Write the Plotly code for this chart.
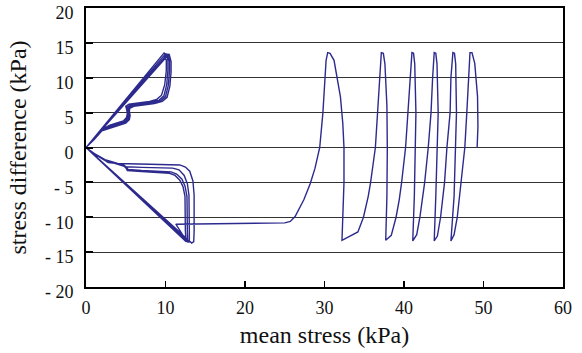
import plotly.graph_objects as go

# ---- compression loops (origin -> curve -> peak) ----
comp1_x = [0, 1.2, 2.2, 3.0, 4.0, 4.7, 5.1, 5.2, 5.1, 5.0, 5.4, 6.5, 8.0, 8.9, 9.5, 9.9, 10.1, 10.1, 9.85]
comp1_y = [0, 1.4, 2.7, 3.2, 3.5, 3.8, 4.3, 4.9, 5.5, 5.9, 6.2, 6.4, 6.6, 6.9, 7.5, 9.0, 11.0, 12.5, 13.6]
comp2_x = [0, 1.1, 2.1, 3.1, 4.1, 4.8, 5.25, 5.35, 5.25, 5.2, 5.6, 6.7, 8.2, 9.2, 9.8, 10.15, 10.3, 10.3, 10.05]
comp2_y = [0, 1.3, 2.6, 3.1, 3.4, 3.7, 4.2, 4.8, 5.4, 5.8, 6.1, 6.3, 6.5, 6.8, 7.4, 9.0, 11.0, 12.5, 13.5]
comp3_x = [0, 1.0, 2.0, 3.2, 4.2, 4.9, 5.35, 5.45, 5.35, 5.35, 5.8, 6.9, 8.4, 9.4, 10.0, 10.35, 10.5, 10.5, 10.25]
comp3_y = [0, 1.2, 2.5, 3.0, 3.3, 3.6, 4.1, 4.7, 5.3, 5.7, 6.0, 6.2, 6.4, 6.7, 7.3, 8.9, 10.9, 12.4, 13.4]
comp4_x = [0, 1.0, 2.0, 3.3, 4.3, 5.0, 5.45, 5.55, 5.45, 5.5, 6.0, 7.1, 8.6, 9.6, 10.2, 10.55, 10.7, 10.7, 10.45]
comp4_y = [0, 1.1, 2.4, 2.9, 3.2, 3.5, 4.0, 4.6, 5.2, 5.6, 5.9, 6.1, 6.3, 6.6, 7.2, 8.8, 10.8, 12.3, 13.4]

# ---- extension loops (bottom -> curve -> origin) ----
ext1_x = [12.6, 12.5, 12.45, 12.45, 12.2, 11.8, 11.2, 10.5, 7.0, 5.2, 5.0, 4.7, 2.3, 1.0, 0]
ext1_y = [-13.5, -12, -9, -7.0, -5.6, -4.7, -4.0, -3.7, -3.45, -3.3, -2.9, -2.6, -1.8, -0.9, 0]
ext2_x = [12.8, 12.75, 12.7, 12.7, 12.45, 12.05, 11.4, 10.7, 7.0, 5.3, 5.05, 4.8, 2.4, 1.0, 0]
ext2_y = [-13.6, -12, -9, -7, -5.5, -4.5, -3.8, -3.5, -3.3, -3.15, -2.8, -2.55, -1.75, -0.85, 0]
ext3_x = [13.0, 13.0, 12.95, 12.95, 12.75, 12.35, 11.7, 10.9, 7.0, 5.0, 2.6, 1.1, 0]
ext3_y = [-13.6, -12, -9, -6.8, -5.2, -4.0, -3.2, -2.95, -2.85, -2.75, -1.9, -0.9, 0]
ext4_x = [13.3, 13.55, 13.6, 13.6, 13.6, 13.45, 13.05, 12.5, 11.8, 8.0, 4.0, 2.8, 2.0, 1.0, 0]
ext4_y = [-13.7, -13.5, -12, -9, -6.8, -4.8, -3.4, -2.8, -2.5, -2.4, -2.3, -2.15, -1.6, -0.85, 0]

# ---- final path: last extension, then drift to the right with cycles ----
right_x = [0, 12.7, 11.3, 14.0, 20.0, 25.0, 25.7, 26.3, 27.4, 28.2, 28.8, 29.4, 29.8, 30.0, 30.2, 30.4,
           30.7, 31.2, 31.7, 32.0, 32.3, 32.45, 32.45, 32.35, 32.2,
           34.2, 34.9, 35.5, 35.8, 36.4, 36.7, 36.95, 37.15, 37.4, 37.6, 37.85, 37.9, 37.85, 37.7,
           38.4, 39.0, 39.4, 39.7, 40.2, 40.5, 40.8, 41.0, 41.2, 41.35, 41.5, 41.45, 41.3, 41.1,
           41.6, 42.0, 42.3, 42.6, 43.05, 43.4, 43.6, 43.8, 44.0, 44.15, 44.3, 44.2, 44.0, 43.8,
           44.2, 44.6, 45.1, 45.4, 45.8, 45.9, 46.15, 46.35, 46.5, 46.6, 46.5, 46.3, 45.9,
           46.3, 46.7, 47.2, 47.65, 47.9, 48.1, 48.3, 48.55, 48.9, 49.25, 49.3, 49.2]
right_y = [0, -13.5, -11.0, -10.95, -10.9, -10.8, -10.6, -9.9, -7.5, -5.2, -3.0, 0, 5, 9, 12.5, 13.6,
           13.5, 12.5, 9.5, 7.3, 3.5, 0, -5, -10, -13.3,
           -12.1, -10, -7, -5, 0, 5, 10, 13.6, 13.5, 12, 6, 0, -7, -13.3,
           -12.6, -10, -7.5, -5, 0, 5, 10, 13.6, 13.5, 12, 5, 0, -7, -13.4,
           -12.5, -10, -7.5, -5, 0, 5, 10, 13.6, 13.5, 12, 5, 0, -7, -13.4,
           -12.7, -10, -5, 0, 5, 10, 13.6, 13.5, 12, 5, 0, -7, -13.4,
           -12.5, -10, -5, 0, 5, 10, 13.6, 13.6, 12.05, 7.3, 3.0, 0]

y_tickvals = [20, 15, 10, 5, 0, -5, -10, -15, -20]
y_ticktext = ["20", "15", "10", "5", "0", "- 5", "- 10", "- 15", "- 20"]
x_tickvals = [0, 10, 20, 30, 40, 50, 60]

# assemble the single continuous stress path
path_x, path_y = [], []
for cx, cy, ex, ey in [(comp1_x, comp1_y, ext4_x, ext4_y),
                       (comp2_x, comp2_y, ext1_x, ext1_y),
                       (comp3_x, comp3_y, ext2_x, ext2_y),
                       (comp4_x, comp4_y, ext3_x, ext3_y)]:
    path_x += cx + [0] + ex
    path_y += cy + [0] + ey
path_x += comp1_x + right_x
path_y += comp1_y + right_y

color = "#2d2a8e"
serif = "Liberation Serif"
fig = go.Figure()
fig.add_trace(go.Scatter(x=path_x, y=path_y, mode="lines",
                         line=dict(color=color, width=1.4), showlegend=False,
                         hoverinfo="skip"))

fig.update_layout(
    width=582, height=353,
    margin=dict(l=86, r=19, t=8, b=66),
    paper_bgcolor="white", plot_bgcolor="white",
    font=dict(family=serif, size=18, color="#111"),
)
fig.update_xaxes(range=[0, 60], tickvals=x_tickvals, showgrid=False, zeroline=False,
                 showline=True, linecolor="black", linewidth=2, mirror=True,
                 ticks="inside", ticklen=6, tickwidth=1.5, tickcolor="black",
                 tickfont=dict(family=serif, size=18, color="#111"),
                 automargin=False, ticklabelstandoff=3,
                 title=dict(text="mean stress (kPa)", font=dict(family=serif, size=24), standoff=10))
fig.update_yaxes(range=[-20, 20], tickvals=y_tickvals, ticktext=y_ticktext,
                 showgrid=True, gridcolor="#333", gridwidth=1, zeroline=False,
                 showline=True, linecolor="black", linewidth=2, mirror=True,
                 ticks="inside", ticklen=7, tickwidth=2, tickcolor="black",
                 tickfont=dict(family=serif, size=18, color="#111"),
                 automargin=False, ticklabelshift=5, ticklabelstandoff=7,
                 ticklabeloverflow="allow",
                 title=dict(text="stress difference (kPa)", font=dict(family=serif, size=24), standoff=12))

fig.write_html("out.html", config={"displayModeBar": False, "staticPlot": True},
               post_script="document.body.style.margin='0';")
